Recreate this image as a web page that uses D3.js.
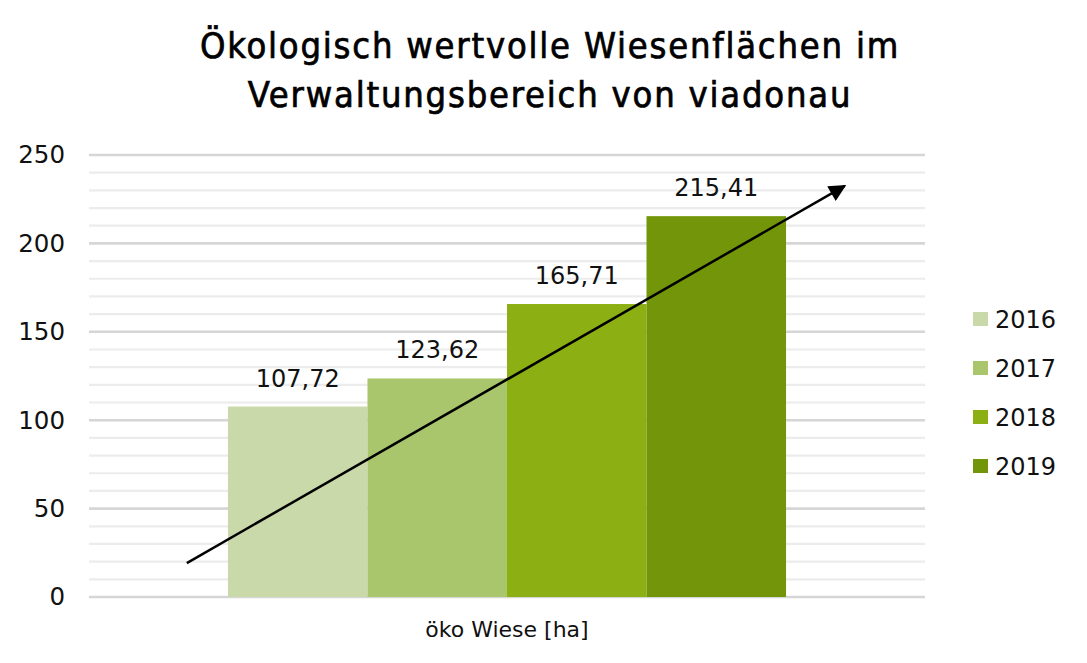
<!DOCTYPE html>
<html><head><meta charset="utf-8">
<script src="https://cdn.jsdelivr.net/npm/d3@7"></script>
<style>body{margin:0;background:#fff}</style>
</head><body>
<svg id="c" width="1087" height="663"></svg>
<script>
const categories = ["öko Wiese [ha]"];
const years = ["2016","2017","2018","2019"];
const values = [107.72, 123.62, 165.71, 215.41];
const colors = ["#c9d9a9","#a9c66d","#8cb014","#72950a"];
const yTicks = [0,50,100,150,200,250];
const titleLines = ["Ökologisch wertvolle Wiesenflächen im","Verwaltungsbereich von viadonau"];
// trend arrow in data units: [category fraction 0..1, value]
const arrowPts = [[0.117, 19.2],[0.904, 232.5]];

const FONT = "DejaVu Sans, Verdana, sans-serif";
const svg = d3.select("#c");
const M = {l:89, r:925, t:155, b:597};
const y = d3.scaleLinear().domain([0,250]).range([M.b, M.t]);
const x0 = d3.scaleBand().domain(categories).range([M.l, M.r]).paddingInner(0).paddingOuter(0.249);
const x1 = d3.scaleBand().domain(years).range([0, x0.bandwidth()]).padding(0);
const xf = d3.scaleLinear().domain([0,1]).range([M.l, M.r]);

// minor grid
svg.append("g").selectAll("line").data(d3.range(0,251,10).filter(v=>v%50!==0)).join("line")
  .attr("x1",M.l).attr("x2",M.r).attr("y1",d=>y(d)).attr("y2",d=>y(d))
  .attr("stroke","#ececec").attr("stroke-width",2.2);
// major grid
svg.append("g").selectAll("line").data(yTicks).join("line")
  .attr("x1",M.l).attr("x2",M.r).attr("y1",d=>y(d)).attr("y2",d=>y(d))
  .attr("stroke","#d6d6d6").attr("stroke-width",2.6);

// y axis labels
const ya = svg.append("g").attr("transform",`translate(${M.l},0)`)
  .call(d3.axisLeft(y).tickValues(yTicks).tickSize(0).tickPadding(24));
ya.select(".domain").remove();
ya.selectAll("text").attr("font-family",FONT).attr("font-size",24.5).attr("fill","#111");

// bars
const g = svg.append("g").attr("transform",`translate(${x0(categories[0])},0)`);
g.selectAll("rect").data(values).join("rect")
  .attr("x",(d,i)=>x1(years[i])).attr("width",x1.bandwidth())
  .attr("y",d=>y(d)).attr("height",d=>y(0)-y(d)).attr("fill",(d,i)=>colors[i]);
g.selectAll("text").data(values).join("text")
  .attr("x",(d,i)=>x1(years[i])+x1.bandwidth()/2).attr("y",d=>y(d)-20)
  .attr("text-anchor","middle").attr("font-family",FONT)
  .attr("font-size",24).attr("fill","#111")
  .text(d=>d.toFixed(2).replace(".",","));

// x axis label
const xa = svg.append("g").attr("transform",`translate(0,${M.b})`)
  .call(d3.axisBottom(x0).tickSize(0).tickPadding(24));
xa.select(".domain").remove();
xa.selectAll("text").attr("font-family",FONT).attr("font-size",22).attr("fill","#111");

// arrow
svg.append("defs").append("marker").attr("id","ah").attr("viewBox","0 0 10 10")
  .attr("refX",9).attr("refY",5)
  .attr("markerUnits","userSpaceOnUse").attr("orient","auto")
  .attr("markerWidth",19).attr("markerHeight",17)
  .append("path").attr("d","M0,0 L10,5 L0,10 z").attr("fill","#000");
svg.append("line")
  .attr("x1",xf(arrowPts[0][0])).attr("y1",y(arrowPts[0][1]))
  .attr("x2",xf(arrowPts[1][0])).attr("y2",y(arrowPts[1][1]))
  .attr("stroke","#000").attr("stroke-width",2.5).attr("marker-end","url(#ah)");

// legend
const lg = svg.append("g").attr("transform","translate(973,319)");
years.forEach((yr,i)=>{
  const r = lg.append("g").attr("transform",`translate(0,${i*49})`);
  r.append("rect").attr("x",0).attr("y",-7).attr("width",15).attr("height",14).attr("fill",colors[i]);
  r.append("text").attr("x",22).attr("y",9).attr("font-family",FONT)
   .attr("font-size",24).attr("fill","#111").text(yr);
});

// title
svg.append("g").selectAll("text").data(titleLines).join("text")
  .attr("x",550).attr("y",(d,i)=>58+i*49).attr("text-anchor","middle")
  .attr("font-family","DejaVu Sans Condensed, Arial Narrow, sans-serif")
  .attr("letter-spacing",1.8)
  .attr("stroke","#000").attr("stroke-width",0.7)
  .attr("font-size",36).attr("fill","#000").text(d=>d);
</script>
</body></html>
